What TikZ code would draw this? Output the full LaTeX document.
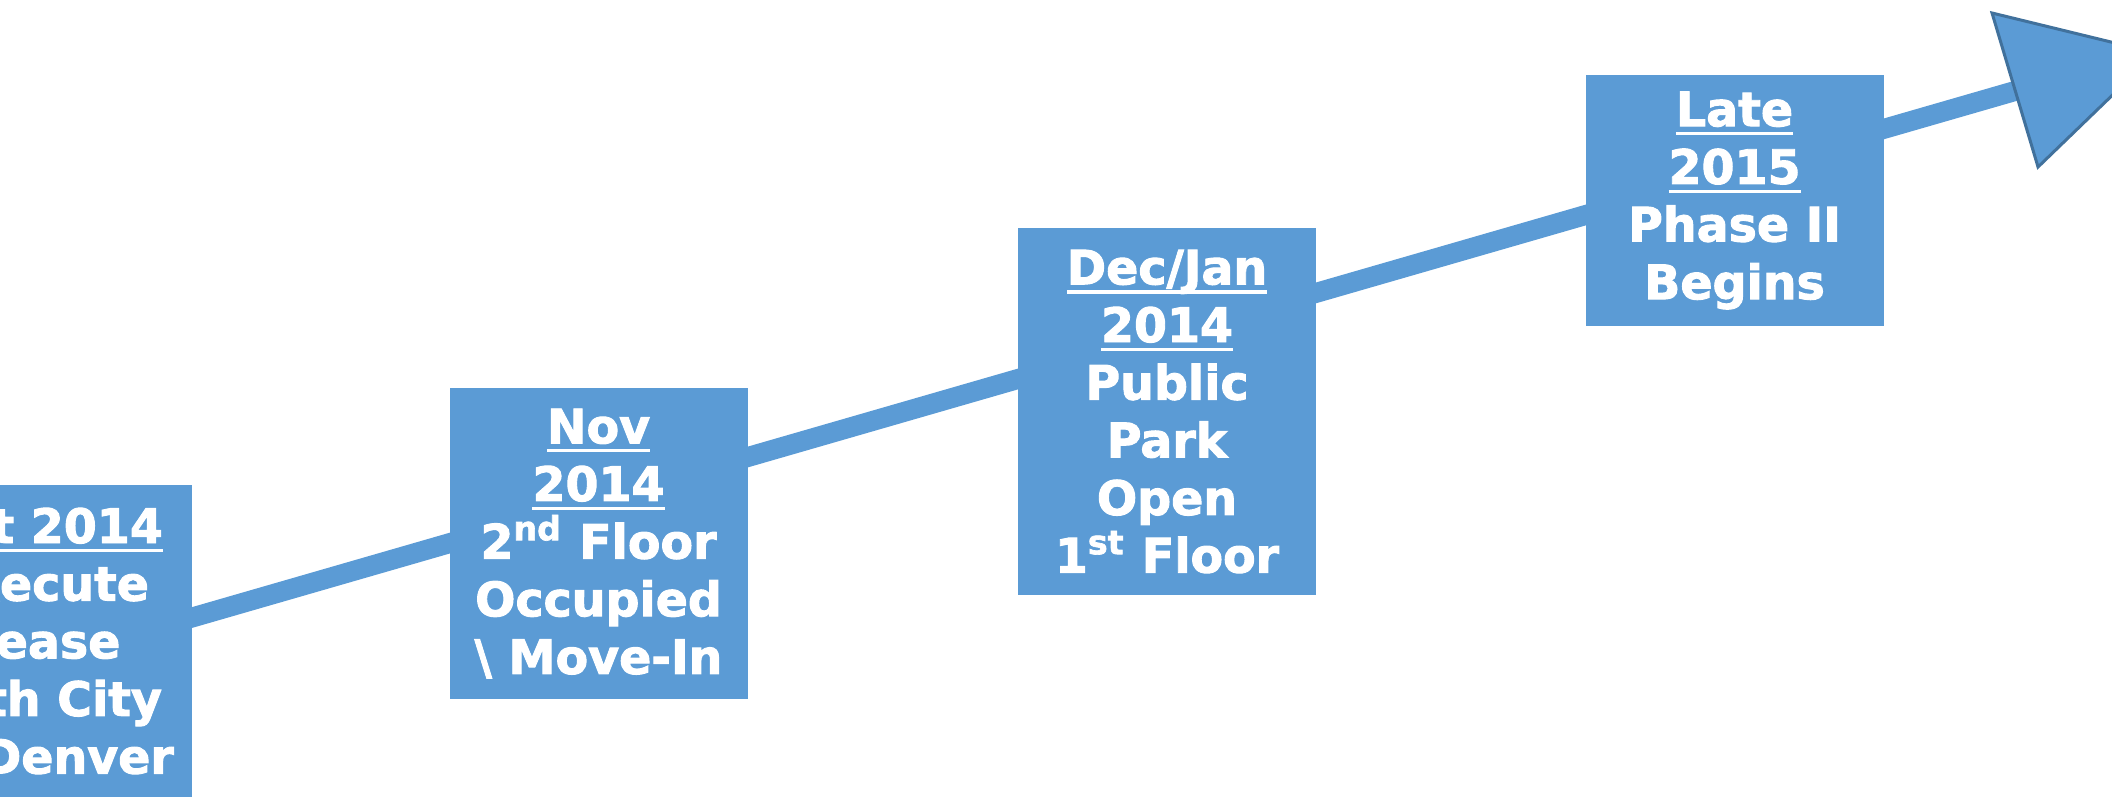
\documentclass[tikz,border=0pt]{standalone}
\usepackage{fontspec}
\setmainfont{DejaVu Sans}
\newfontfamily\blackfont{DejaVu Sans}[BoldFeatures={FakeBold=2}]
\definecolor{boxblue}{HTML}{5B9BD5}
\definecolor{edgeblue}{HTML}{41719C}
\newcommand{\hdrline}[1]{\setbox0\hbox{#1}\rlap{\rule[-2.6pt]{\wd0}{0.9pt}}\box0}

\begin{document}
\begin{tikzpicture}[x=0.1mm, y=-0.1mm,
    event/.style={fill=boxblue, text=white, align=center,
      font=\blackfont\bfseries\fontsize{13.5}{16.4}\selectfont,
      minimum width=29.8mm, inner sep=0pt}]
        % Frame
        \useasboundingbox (0,0) rectangle (2112,799);
        \clip (0,0) rectangle (2112,799);

        % Timeline shaft
        \coordinate (start) at (0,673);
        \coordinate (headbase) at (2015,91);
        \draw[boxblue, line width=2mm] (start) -- (headbase);

        % Events
        \node[event, minimum height=31.2mm] (oct) at (43,641)
          {\hdrline{Oct 2014}\\Execute\\Lease\\with City\\of Denver};
        \node[event, minimum height=31.1mm] (nov) at (598.5,543.5)
          {\hdrline{Nov}\\\hdrline{2014}\\2\textsuperscript{nd} Floor\\Occupied\\\textbackslash{} Move-In};
        \node[event, minimum height=36.7mm] (decjan) at (1167,411.5)
          {\hdrline{Dec/Jan}\\\hdrline{2014}\\Public\\Park\\Open\\1\textsuperscript{st} Floor};
        \node[event, minimum height=25.1mm] (late) at (1734.5,200.5)
          {\hdrline{Late}\\\hdrline{2015}\\Phase II\\Begins};

        % Arrow head
        \filldraw[fill=boxblue, draw=edgeblue, line width=0.3mm, line join=miter]
          (1992,13) -- (2156,53) -- (2038,167) -- cycle;
      \end{tikzpicture}
\end{document}
